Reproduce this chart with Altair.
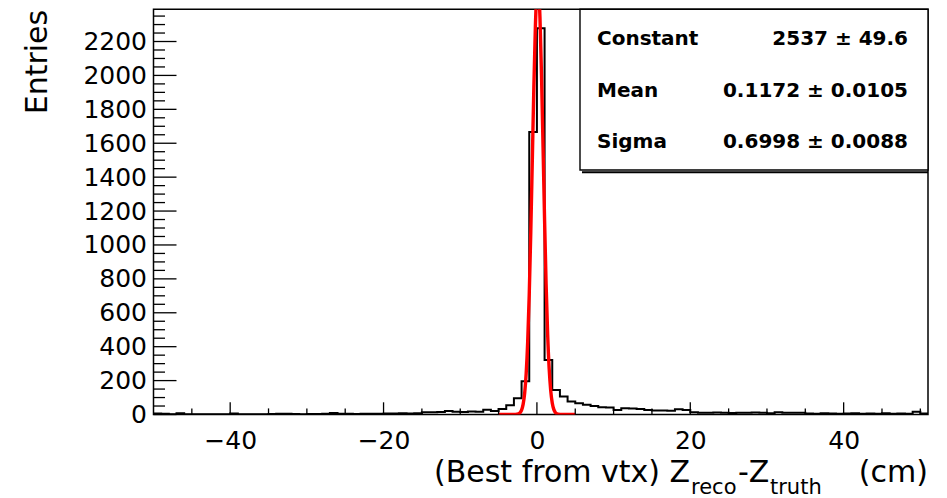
import altair as alt
import pandas as pd

# ---------------- data ----------------
bin_left = list(range(-50, 51))          # 1 cm bins, left edges, last bin ends at 51
counts = [
    6, 4, 1, 7, 2, 2, 1, 2, 1, 2,        # -50 .. -41
    6, 2, 2, 1, 2, 3, 5, 5, 3, 2,        # -40 .. -31
    3, 3, 4, 9, 4, 4, 3, 5, 4, 5,        # -30 .. -21
    6, 6, 7, 6, 8, 13, 14, 15, 21, 16,   # -20 .. -11
    15, 17, 16, 28, 20, 32, 55, 96, 196, 1666,  # -10 .. -1
    2278, 321, 145, 106, 77, 66, 57, 50, 43, 42,  # 0 .. 9
    27, 37, 36, 33, 27, 23, 23, 22, 31, 27,       # 10 .. 19
    14, 11, 10, 12, 11, 9, 11, 10, 12, 10,        # 20 .. 29
    7, 13, 11, 10, 11, 6, 5, 7, 6, 5,             # 30 .. 39
    6, 7, 5, 6, 4, 7, 5, 6, 4, 16,                # 40 .. 49
    6,                                            # 50
]
fit_x = [-5.0, -4.6, -4.2, -3.8, -3.4, -3.0, -2.8, -2.6, -2.4, -2.2, -2.0,
         -1.8, -1.6, -1.4, -1.2, -1.0, -0.8, -0.6, -0.4, -0.2, 0.0, 0.1172,
         0.2, 0.4, 0.6, 0.8, 1.0, 1.2, 1.4, 1.6, 1.8, 2.0, 2.2, 2.4, 2.6,
         2.8, 3.0, 3.4, 3.8, 4.2, 4.6, 5.0]
fit_y = [0, 0, 0, 0, 0, 0.1, 0.4, 1.4, 3.9, 10.6, 26.1,
         59.5, 125.0, 242.0, 431.6, 709.1, 1074.8, 1500.1, 1930.7, 2289.4, 2501.7, 2537.0,
         2519.3, 2338.1, 1999.7, 1576.2, 1145.0, 766.4, 472.9, 268.7, 140.9, 68.0, 30.2, 12.4, 4.7,
         1.6, 0.5, 0, 0, 0, 0, 0]

x_label_values = [-40, -20, 0, 20, 40]
x_major_ticks = [-40, -20, 0, 20, 40]
x_minor_ticks = [-45, -35, -30, -25, -15, -10, -5, 5, 10, 15, 25, 30, 35, 45, 50]
y_label_values = [0, 200, 400, 600, 800, 1000, 1200, 1400, 1600, 1800, 2000, 2200]
y_minor_ticks = [50, 100, 150, 250, 300, 350, 450, 500, 550, 650, 700, 750,
                 850, 900, 950, 1050, 1100, 1150, 1250, 1300, 1350, 1450, 1500, 1550,
                 1650, 1700, 1750, 1850, 1900, 1950, 2050, 2100, 2150, 2250, 2300, 2350]

stat_names = ["Constant", "Mean", "Sigma"]
stat_values = ["2537 \u00b1 49.6", "0.1172 \u00b1 0.0105", "0.6998 \u00b1 0.0088"]

# ---------------- layout ----------------
W, H = 774.5, 405.2
LEFT = 145.5
XDOM = [-50, 51]
YDOM = [0, 2390]
FONT = "DejaVu Sans"

xs = alt.Scale(domain=XDOM, nice=False, zero=False)
ys = alt.Scale(domain=YDOM, nice=False, zero=False)
x_axis = alt.Axis(values=x_label_values, ticks=False, tickSize=0, domain=False, grid=False,
                  title=None, labelFontSize=25, labelFont=FONT, labelColor="black",
                  labelPadding=14, format="d")
y_axis = alt.Axis(values=y_label_values, ticks=False, tickSize=0, domain=False, grid=False,
                  title=None, labelFontSize=25, labelFont=FONT, labelColor="black",
                  labelPadding=7, format="d")

hist_df = pd.DataFrame({"x": bin_left + [bin_left[-1] + 1],
                        "y": counts + [counts[-1]]})
fit_df = pd.DataFrame({"x": fit_x, "y": fit_y})

hist = alt.Chart(hist_df).mark_line(
    interpolate="step-after", color="black", strokeWidth=2, clip=True
).encode(
    x=alt.X("x:Q", scale=xs, axis=x_axis),
    y=alt.Y("y:Q", scale=ys, axis=y_axis),
)

fit = alt.Chart(fit_df).mark_line(
    interpolate="monotone", color="#ff0000", strokeWidth=3.4, clip=True
).encode(
    x=alt.X("x:Q", scale=xs, axis=x_axis),
    y=alt.Y("y:Q", scale=ys, axis=y_axis),
)

xmaj = alt.Chart(pd.DataFrame({"x": x_major_ticks})).mark_rule(
    color="black", strokeWidth=1.3
).encode(x=alt.X("x:Q", scale=xs, axis=x_axis), y=alt.value(H), y2=alt.value(H - 12.2))
xmin = alt.Chart(pd.DataFrame({"x": x_minor_ticks})).mark_rule(
    color="black", strokeWidth=1.3
).encode(x=alt.X("x:Q", scale=xs, axis=x_axis), y=alt.value(H), y2=alt.value(H - 6.1))
ymaj = alt.Chart(pd.DataFrame({"y": y_label_values})).mark_rule(
    color="black", strokeWidth=1.3
).encode(y=alt.Y("y:Q", scale=ys, axis=y_axis), x=alt.value(0), x2=alt.value(23))
ymin = alt.Chart(pd.DataFrame({"y": y_minor_ticks})).mark_rule(
    color="black", strokeWidth=1.3
).encode(y=alt.Y("y:Q", scale=ys, axis=y_axis), x=alt.value(0), x2=alt.value(11.5))

one = pd.DataFrame({"a": [0]})
box = alt.Chart(one).mark_rect(fill="white", stroke="black", strokeWidth=1.4).encode(
    x=alt.value(426.5), x2=alt.value(W), y=alt.value(0), y2=alt.value(160.7))
shadow = alt.Chart(one).mark_rule(color="black", strokeWidth=2).encode(
    x=alt.value(428.5), x2=alt.value(W), y=alt.value(163), y2=alt.value(163))

stat_layers = []
row_base = [35.7, 87.7, 138.7]
for name, val, yb in zip(stat_names, stat_values, row_base):
    d = pd.DataFrame({"name": [name], "val": [val]})
    stat_layers.append(alt.Chart(d).mark_text(
        font=FONT, fontSize=20, fontWeight="bold", align="left", baseline="alphabetic",
        color="black").encode(text="name:N", x=alt.value(443.5), y=alt.value(yb)))
    stat_layers.append(alt.Chart(d).mark_text(
        font=FONT, fontSize=20, fontWeight="bold", align="right", baseline="alphabetic",
        color="black").encode(text="val:N", x=alt.value(754.5), y=alt.value(yb)))

# y title
ytitle = alt.Chart(pd.DataFrame({"t": ["Entries"]})).mark_text(
    font=FONT, fontSize=30, angle=270, align="right", baseline="alphabetic", color="black"
).encode(text="t:N", x=alt.value(47 - 8 - LEFT), y=alt.value(0.5))

# x title with subscripts
OX = 8 + LEFT
MAIN_BASE = 473.0
SUB_BASE = 484.5
title_parts = [
    ("(Best from vtx) Z", 434 - OX, MAIN_BASE, 30, "left"),
    ("reco", 691 - OX, SUB_BASE, 21, "left"),
    ("-Z", 738 - OX, MAIN_BASE, 30, "left"),
    ("truth", 770 - OX, SUB_BASE, 21, "left"),
    ("(cm)", 928 - OX, MAIN_BASE, 30, "right"),
]
title_layers = []
for txt, px, py, fs, al in title_parts:
    title_layers.append(alt.Chart(pd.DataFrame({"t": [txt]})).mark_text(
        font=FONT, fontSize=fs, align=al, baseline="alphabetic", color="black"
    ).encode(text="t:N", x=alt.value(px), y=alt.value(py)))

chart = alt.layer(
    hist, fit, xmaj, xmin, ymaj, ymin, box, shadow, *stat_layers, ytitle, *title_layers
).properties(
    width=W, height=H,
    autosize=alt.AutoSizeParams(type="none"),
    padding={"left": LEFT, "top": 1.3, "right": 8, "bottom": 83},
    background="white",
).configure_view(stroke="black", strokeWidth=1.5)

chart.save("out.html", embed_options={"renderer": "svg", "actions": False})
